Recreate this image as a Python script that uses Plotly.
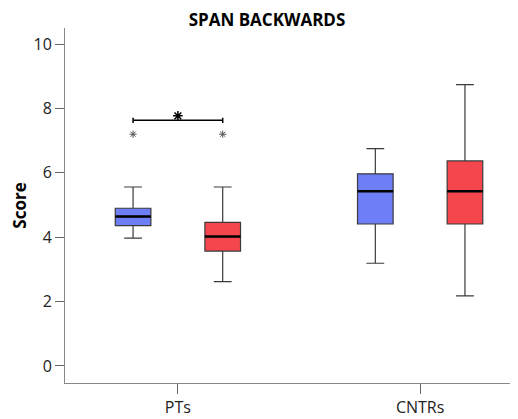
import plotly.graph_objects as go

categories = ["PTs", "CNTRs"]
series_names = ["Group A", "Group B"]
series_colors = ["#6E7EF6", "#F6464D"]

# per series, per category: lowerfence, q1, median, q3, upperfence
lower = [[3.97, 3.19], [2.62, 2.18]]
q1 = [[4.36, 4.41], [3.57, 4.41]]
median = [[4.64, 5.43], [4.02, 5.43]]
q3 = [[4.90, 5.97], [4.46, 6.37]]
upper = [[5.56, 6.75], [5.56, 8.74]]
outliers = [[[7.2], []], [[7.2], []]]

sig_y = 7.63
y_ticks = [0, 2, 4, 6, 8, 10]

offset = 0.185
box_w = 0.147

fig = go.Figure()
for s in range(2):
    xs = [i + (2 * s - 1) * offset for i in range(len(categories))]
    fig.add_trace(go.Box(
        x=xs, q1=q1[s], median=median[s], q3=q3[s],
        lowerfence=lower[s], upperfence=upper[s],
        width=box_w, whiskerwidth=0.5,
        fillcolor=series_colors[s],
        line=dict(color="#3a3a3a", width=1.2),
        boxpoints=False, showlegend=False, hoverinfo="skip",
    ))
    # thicker median lines
    mx, my = [], []
    for i, x in enumerate(xs):
        mx += [x - box_w / 2, x + box_w / 2, None]
        my += [median[s][i], median[s][i], None]
    fig.add_trace(go.Scatter(x=mx, y=my, mode="lines",
                             line=dict(color="black", width=2.5),
                             showlegend=False, hoverinfo="skip"))
    # outliers
    ox, oy = [], []
    for i, x in enumerate(xs):
        for v in outliers[s][i]:
            ox.append(x)
            oy.append(v)
    fig.add_trace(go.Scatter(x=ox, y=oy, mode="markers",
                             marker=dict(symbol="asterisk-open", size=6, color="#555555",
                                         line=dict(color="#555555", width=1)),
                             showlegend=False, hoverinfo="skip"))

# significance bracket between the two PTs boxes
x0, x1 = 0 - offset, 0 + offset
cap = 0.08
fig.add_trace(go.Scatter(
    x=[x0, x1, None, x0, x0, None, x1, x1],
    y=[sig_y, sig_y, None, sig_y - cap, sig_y + cap, None, sig_y - cap, sig_y + cap],
    mode="lines", line=dict(color="black", width=1.5),
    showlegend=False, hoverinfo="skip"))
fig.add_trace(go.Scatter(x=[0], y=[sig_y + 0.14], mode="markers",
                         marker=dict(symbol="asterisk-open", size=8, color="black",
                                     line=dict(color="black", width=1.5)),
                         showlegend=False, hoverinfo="skip"))

fig.update_layout(
    width=518, height=419,
    margin=dict(l=57, r=0, t=20, b=44),
    paper_bgcolor="white", plot_bgcolor="white",
    font=dict(family="Open Sans", color="#222222", size=16),
    title=dict(text="<b>SPAN BACKWARDS</b>", x=0.5, xanchor="center",
               y=0.972, yanchor="middle", font=dict(size=17, color="black")),
    showlegend=False,
)
fig.update_xaxes(
    range=[-0.466, 1.437], tickvals=list(range(len(categories))), ticktext=categories,
    showline=True, linecolor="#888888", linewidth=1,
    ticks="outside", ticklen=10, tickcolor="#666666",
    showgrid=False, zeroline=False, tickfont=dict(size=16),
)
fig.update_yaxes(
    range=[-0.53, 10.5], tickvals=y_ticks,
    showline=True, linecolor="#888888", linewidth=1,
    ticks="outside", ticklen=9, tickcolor="#666666",
    showgrid=False, zeroline=False, tickfont=dict(size=16),
    title=dict(text="<b>Score</b>", font=dict(size=17, color="black"), standoff=8),
)

fig.write_html("out.html")
